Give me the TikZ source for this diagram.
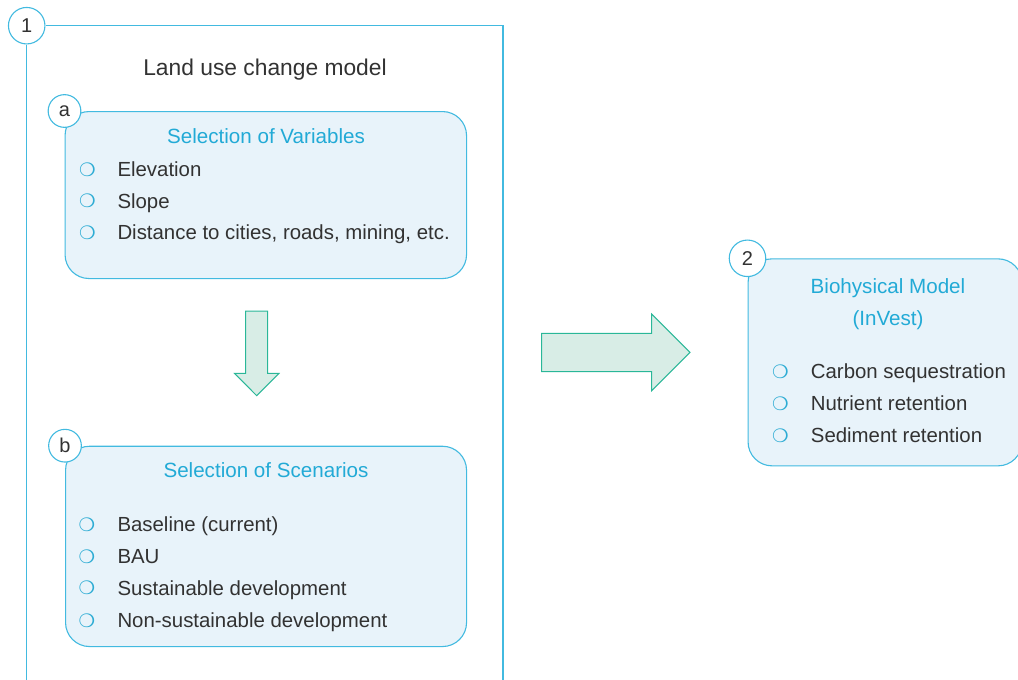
\documentclass[tikz,border=0pt]{standalone}
\usepackage{fontspec}
\setmainfont{Liberation Sans}
\newfontfamily\symfont{DejaVu Sans}
\definecolor{frame}{RGB}{66,186,224}
\definecolor{boxfill}{RGB}{232,243,250}
\definecolor{head}{RGB}{34,170,214}
\definecolor{arrfill}{RGB}{216,237,230}
\definecolor{arrline}{RGB}{42,183,152}
\definecolor{txt}{RGB}{50,50,50}
\definecolor{bul}{RGB}{45,172,212}
\begin{document}
\begin{tikzpicture}[x=1pt,y=-1pt,
  framel/.style={draw=frame,line width=1.1pt},
  roundbox/.style={draw=frame,fill=boxfill,line width=1.1pt,rounded corners=24pt,anchor=north west,inner sep=0pt},
  num/.style={circle,draw=frame,fill=white,line width=1.1pt,inner sep=0pt,text=txt,font=\fontsize{20}{22}\selectfont},
  hdr/.style={text=head,font=\fontsize{20.6}{23}\selectfont,anchor=base,inner sep=0pt},
  item/.style={text=txt,font=\fontsize{20.4}{23}\selectfont,anchor=base west,inner sep=0pt},
  bullet/.style={text=bul,font=\symfont\fontsize{18.5}{20}\selectfont,anchor=center,inner sep=0pt},
  blockarrow/.style={draw=arrline,fill=arrfill,line width=1pt,line join=miter}
]
\useasboundingbox (0,0) rectangle (1018,680);
\clip (0,0) rectangle (1018,680);

% outer frame 1
\node[num,minimum size=36.5pt] (c1) at (26.7,25.7) {1};
\coordinate (f1tr) at (503,25.7);
\coordinate (f1br) at (503,690);
\coordinate (f1bl) at (26.7,690);
\draw[framel] (c1.east) -- (f1tr) -- (f1br);
\draw[framel] (c1.south) -- (f1bl);
\node[text=txt,font=\fontsize{22.8}{25}\selectfont,anchor=base,inner sep=0pt] (title) at (265,75) {Land use change model};

% box a
\node[roundbox,minimum width=401.5pt,minimum height=167pt] (boxa) at (64.5,111) {};
\node[num,minimum size=32.7pt] (ca) at (boxa.north west) {a};
\node[hdr] (ha) at (266,143.3) {Selection of Variables};
\foreach \y/\t [count=\i] in {176.7/Elevation,208/Slope,239.3/{Distance to cities, roads, mining, etc.}}{
  \node[bullet] (ba\i) at (87.3,\y-6.8) {❍};
  \node[item] (ia\i) at (117.3,\y) {\t};
}

% down arrow
\draw[blockarrow] (245.7,311) -- (267.7,311) -- (267.7,373.3) -- (279,373.3) -- (256.7,395.7) -- (234.5,373.3) -- (245.7,373.3) -- cycle;

% box b
\node[roundbox,minimum width=401pt,minimum height=200.3pt] (boxb) at (65,445.7) {};
\node[num,minimum size=32.7pt] (cb) at (boxb.north west) {b};
\node[hdr] (hb) at (266,477.7) {Selection of Scenarios};
\foreach \y/\t [count=\i] in {531.7/Baseline (current),563.3/BAU,595/Sustainable development,627.3/Non-sustainable development}{
  \node[bullet] (bb\i) at (87,\y-6.8) {❍};
  \node[item] (ib\i) at (117.3,\y) {\t};
}

% right arrow
\draw[blockarrow] (541.7,333.3) -- (651.7,333.3) -- (651.7,314) -- (690,352.3) -- (651.7,390.7) -- (651.7,371.7) -- (541.7,371.7) -- cycle;

% box 2
\node[roundbox,minimum width=274pt,minimum height=207pt] (box2) at (747.5,258.3) {};
\node[num,minimum size=36.5pt] (c2) at (box2.north west) {2};
\node[hdr] (h2a) at (888,293.3) {Biohysical Model};
\node[hdr] (h2b) at (888,325) {(InVest)};
\foreach \y/\t [count=\i] in {378.3/Carbon sequestration,410.7/Nutrient retention,442.3/Sediment retention}{
  \node[bullet] (b2\i) at (780.5,\y-6.8) {❍};
  \node[item] (i2\i) at (810.7,\y) {\t};
}
\end{tikzpicture}
\end{document}
